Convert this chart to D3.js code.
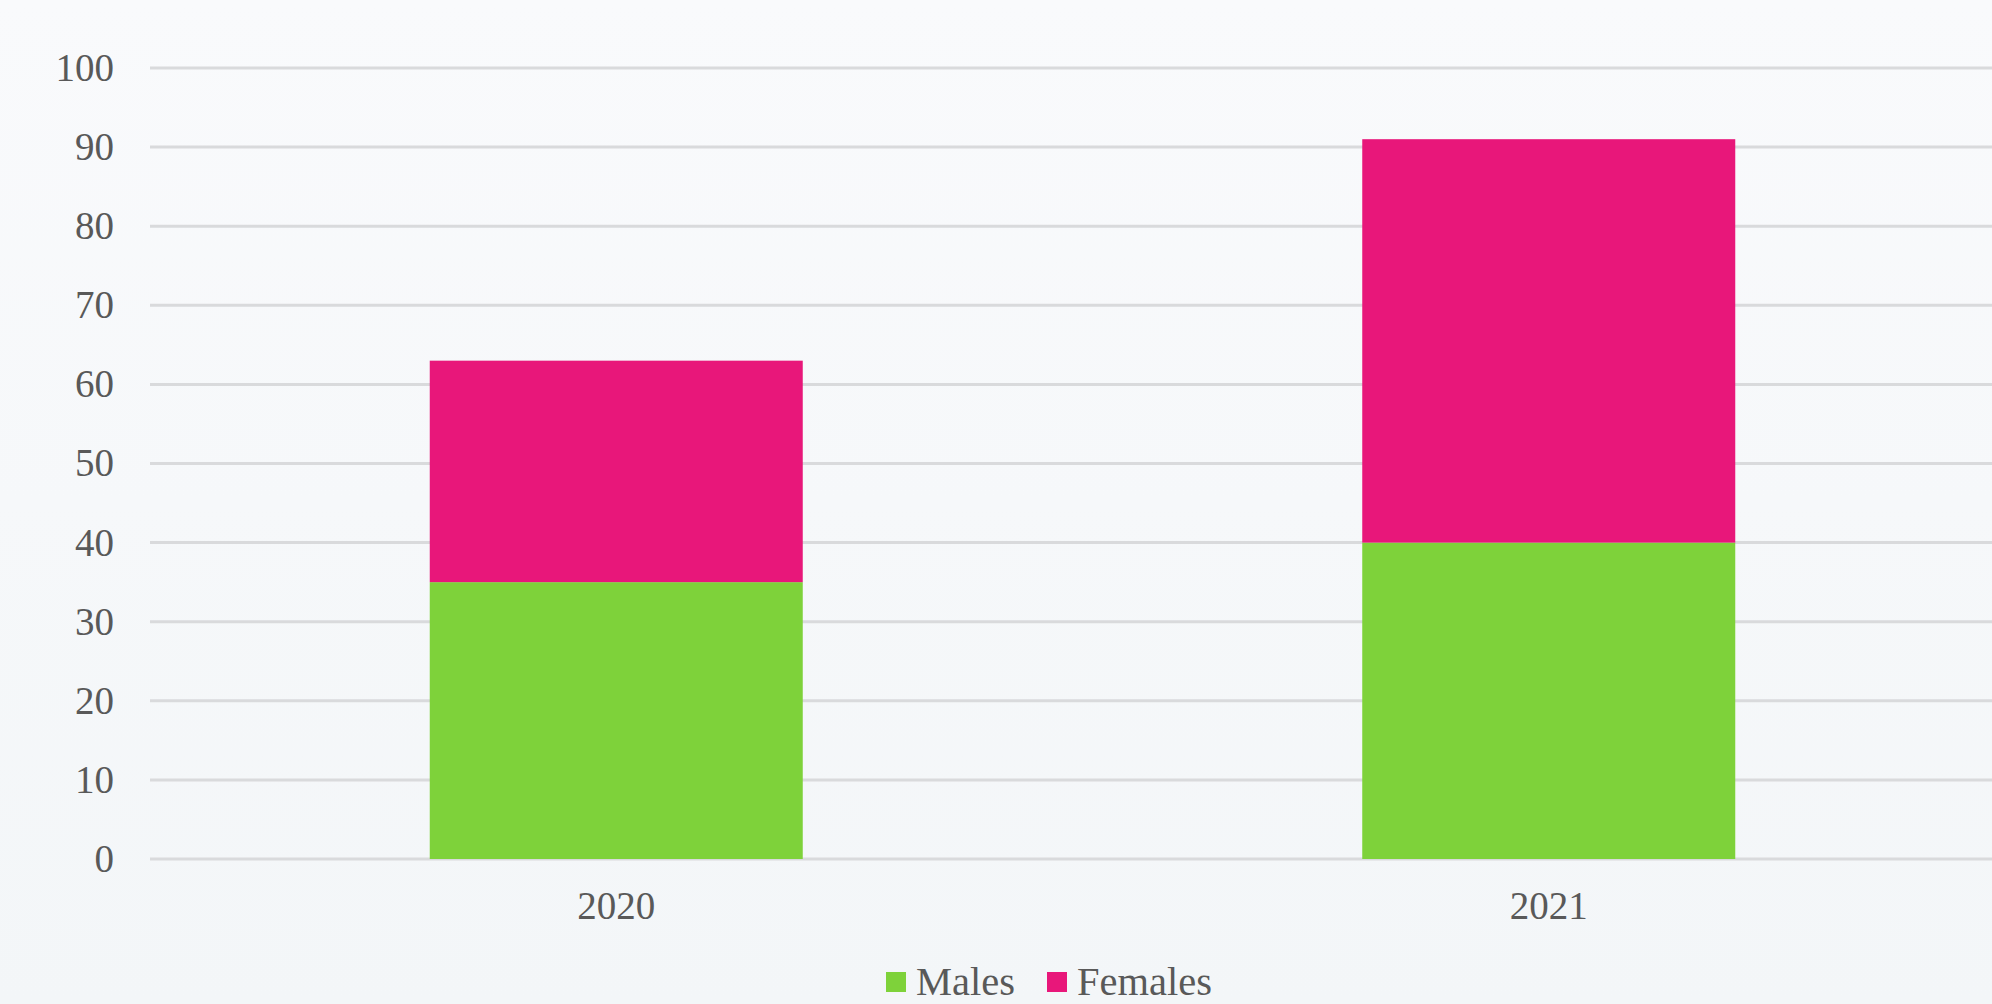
<!DOCTYPE html>
<style>
body { margin: 0; }
svg { display: block; }
text { font-family: "Liberation Serif", "Times New Roman", serif; fill: #595959; }
</style>
<body></body>
<script src="https://d3js.org/d3.v7.min.js"></script>
<script>
const years = ['2020', '2021']
const males = [35, 40]
const females = [28, 51]
const yTicks = [0, 10, 20, 30, 40, 50, 60, 70, 80, 90, 100]
const seriesNames = ['Males', 'Females']
const seriesColors = ['#7ed23a', '#e8177a']

const width = 1992
const height = 1004

const data = years.map((year, i) => ({ year, Males: males[i], Females: females[i] }))

const svg = d3.select('body')
    .append('svg')
        .attr('width', width)
        .attr('height', height)

// soft background gradient
const grad = svg.append('defs').append('linearGradient')
    .attr('id', 'bg')
    .attr('x1', 0).attr('y1', 0).attr('x2', 0).attr('y2', 1)
grad.append('stop').attr('offset', '0%').attr('stop-color', '#f9fafc')
grad.append('stop').attr('offset', '100%').attr('stop-color', '#f3f6f8')

svg.append('rect')
    .attr('width', width)
    .attr('height', height)
    .attr('fill', 'url(#bg)')

const xScale = d3.scaleBand()
    .domain(years)
    .range([150, 2015])
    .paddingInner(0.6)
    .paddingOuter(0.3)

const yScale = d3.scaleLinear()
    .domain([0, 100])
    .range([859, 68])

// gridlines
svg.append('g')
    .selectAll('line')
    .data(yTicks)
    .join('line')
        .attr('x1', 150)
        .attr('x2', width)
        .attr('y1', d => yScale(d))
        .attr('y2', d => yScale(d))
        .attr('stroke', '#d9dadc')
        .attr('stroke-width', 3)

// y labels
const yAxis = d3.axisLeft(yScale).tickValues(yTicks).tickSize(0).tickPadding(0)
const yg = svg.append('g')
    .attr('transform', 'translate(114, 0)')
    .call(yAxis)
yg.select('.domain').remove()
yg.selectAll('text')
    .attr('font-size', 39)
    .attr('font-family', null)
    .attr('fill', null)
    .attr('dy', '0.32em')

// x labels
const xAxis = d3.axisBottom(xScale).tickSize(0).tickPadding(0)
const xg = svg.append('g')
    .attr('transform', 'translate(0, 919)')
    .call(xAxis)
xg.select('.domain').remove()
xg.selectAll('text')
    .attr('font-size', 39)
    .attr('font-family', null)
    .attr('fill', null)
    .attr('dy', 0)

// stacked bars
const stack = d3.stack().keys(seriesNames)
const layers = stack(data)

svg.append('g')
    .selectAll('g')
    .data(layers)
    .join('g')
        .attr('fill', (d, i) => seriesColors[i])
    .selectAll('rect')
    .data(d => d)
    .join('rect')
        .attr('x', d => xScale(d.data.year))
        .attr('width', xScale.bandwidth())
        .attr('y', d => yScale(d[1]))
        .attr('height', d => yScale(d[0]) - yScale(d[1]))

// legend
const legendItems = [
    { name: 'Males', color: seriesColors[0], x: 886 },
    { name: 'Females', color: seriesColors[1], x: 1047 }
]
const legend = svg.append('g')
legend.selectAll('rect')
    .data(legendItems)
    .join('rect')
        .attr('x', d => d.x)
        .attr('y', 972)
        .attr('width', 20)
        .attr('height', 20)
        .attr('fill', d => d.color)
legend.selectAll('text')
    .data(legendItems)
    .join('text')
        .attr('x', d => d.x + 30)
        .attr('y', 995)
        .attr('font-size', 40.5)
        .text(d => d.name)
</script>
